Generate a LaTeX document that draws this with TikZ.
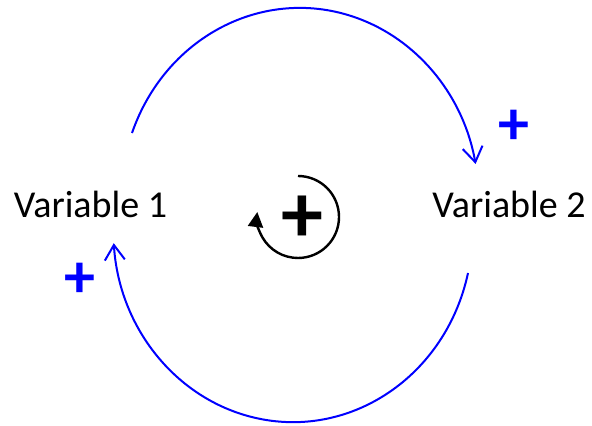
\documentclass[tikz,border=0pt]{standalone}
\usepackage{fontspec}
\setmainfont{Carlito}
\usetikzlibrary{arrows.meta}

\begin{document}
\begin{tikzpicture}[x=0.5pt, y=-0.5pt,
  var/.style={font=\fontsize{19}{23}\selectfont, inner sep=0pt, anchor=base},
  pol/.style={text=blue, font=\fontsize{31}{34}\selectfont\bfseries, inner sep=0pt},
  link/.style={draw=blue, line width=1pt, -{Straight Barb[length=7.5pt,width=10pt]}},
  cyc/.style={draw, line width=1.2pt, -{Triangle[length=7.5pt,width=7.5pt]}}]
\useasboundingbox (0,0) rectangle (592,426);
\node[var] (v1) at (90.5,218) {Variable 1};
\node[var] (v2) at (509,218) {Variable 2};
\node[pol] (p12) at (514,127) {+};
\node[pol] (p21) at (80,280) {+};
\node[font=\fontsize{42}{46}\selectfont\bfseries, inner sep=0pt] (sign) at (302,219) {+};
\coordinate (v1out) at (132,133);
\coordinate (v2out) at (468,273);
\coordinate (cycstart) at (298,176);
\draw[link] (v1out) arc[start angle=200.4, end angle=349.2, x radius=179, y radius=192];
\draw[link] (v2out) arc[start angle=12.9, end angle=176.1, x radius=179.6, y radius=192];
\draw[cyc] (cycstart) arc[start angle=270, end angle=547, radius=41];
\end{tikzpicture}
\end{document}
